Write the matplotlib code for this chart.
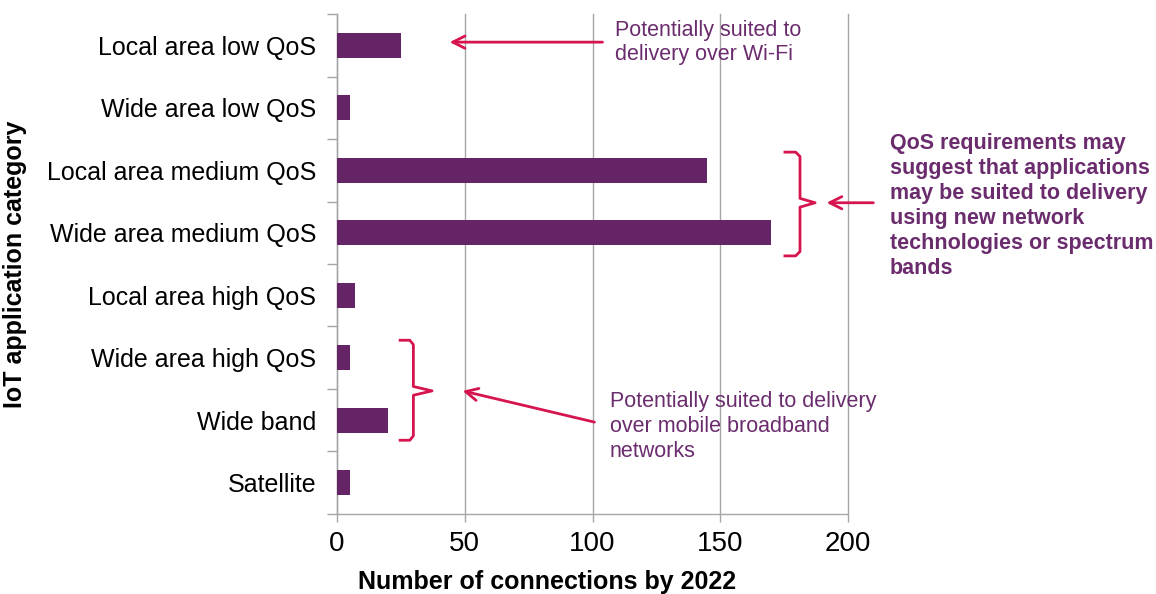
import matplotlib.pyplot as plt
import numpy as np

# IoT connections per application category
categories = [
    "Local area low QoS", "Wide area low QoS", "Local area medium QoS",
    "Wide area medium QoS", "Local area high QoS", "Wide area high QoS",
    "Wide band", "Satellite",
]
connections = [25, 5, 145, 170, 7, 5, 20, 5]
x_ticks = [0, 50, 100, 150, 200]

BAR = "#642466"
NOTE = "#6b2c6e"
RED = "#d6154f"
AXIS = "#a6a6a6"

plt.rcParams["font.family"] = ["Liberation Sans", "DejaVu Sans"]


def main():
    fig = plt.figure(figsize=(11.56, 5.94), dpi=100)
    ax = fig.add_axes([0.2915, 0.1347, 0.4421, 0.8417])

    y = np.arange(len(categories))
    ax.barh(y, connections, height=0.4, color=BAR, zorder=3)

    ax.set_xlim(0, 200)
    ax.set_ylim(len(categories) - 0.5, -0.5)

    # category labels at centres, tick marks at boundaries
    ax.set_yticks(y)
    ax.set_yticklabels(categories, fontsize=18)
    ax.set_yticks(np.arange(len(categories) + 1) - 0.5, minor=True)
    ax.tick_params(axis="y", which="major", length=0, pad=15)
    ax.tick_params(axis="y", which="minor", length=7, color=AXIS, width=1)

    ax.set_xticks(x_ticks)
    ax.set_xticklabels([str(t) for t in x_ticks], fontsize=20)
    ax.tick_params(axis="x", length=6, color=AXIS, width=1, pad=6)

    ax.grid(axis="x", color=AXIS, linewidth=1, zorder=0)
    for gl in ax.get_xgridlines():
        gl.set_clip_on(False)
    for side in ["top", "right"]:
        ax.spines[side].set_visible(False)
    for side in ["left", "bottom"]:
        ax.spines[side].set_color(AXIS)
        ax.spines[side].set_linewidth(1)

    ax.set_xlabel("Number of connections by 2022", fontsize=18,
                  fontweight="bold")
    ax.xaxis.set_label_coords(0.411, -0.112)
    ax.set_ylabel("IoT application category", fontsize=18,
                  fontweight="bold", labelpad=14)

    # Wi-Fi note
    ax.annotate("", xy=(43, -0.05), xytext=(105, -0.05),
                arrowprops=dict(arrowstyle="->", color=RED, lw=2,
                                mutation_scale=22), annotation_clip=False)
    ax.text(108.8, -0.40, "Potentially suited to\ndelivery over Wi-Fi",
            color=NOTE, fontsize=15.5, va="top", ha="left", linespacing=1.16)

    # brace around the medium QoS rows
    bx = [175.3, 179.5, 181.2, 181.2, 187.1, 181.2, 181.2, 179.5, 175.3]
    by = [1.71, 1.71, 1.78, 2.45, 2.52, 2.59, 3.30, 3.37, 3.37]
    ax.plot(bx, by, color=RED, lw=2, clip_on=False, zorder=4,
            solid_joinstyle="round")
    ax.annotate("", xy=(190.5, 2.52), xytext=(211, 2.52),
                arrowprops=dict(arrowstyle="->", color=RED, lw=2,
                                mutation_scale=22), annotation_clip=False)
    ax.text(216.4, 1.40,
            "QoS requirements may\nsuggest that applications\n"
            "may be suited to delivery\nusing new network\n"
            "technologies or spectrum\nbands",
            color=NOTE, fontsize=15.5, fontweight="bold", va="top", ha="left",
            linespacing=1.25)

    # brace around the mobile broadband rows
    lx = [24.7, 28.5, 29.9, 29.9, 37.2, 29.9, 29.9, 28.5, 24.7]
    ly = [4.72, 4.72, 4.79, 5.46, 5.53, 5.60, 6.25, 6.32, 6.32]
    ax.plot(lx, ly, color=RED, lw=2, clip_on=False, zorder=4,
            solid_joinstyle="round")
    ax.annotate("", xy=(48.1, 5.52), xytext=(101.8, 6.04),
                arrowprops=dict(arrowstyle="->", color=RED, lw=2,
                                mutation_scale=22), annotation_clip=False)
    ax.text(106.8, 5.53,
            "Potentially suited to delivery\nover mobile broadband\nnetworks",
            color=NOTE, fontsize=15.5, va="top", ha="left", linespacing=1.24)

    fig.savefig("out.png", dpi=100)


if __name__ == "__main__":
    main()
